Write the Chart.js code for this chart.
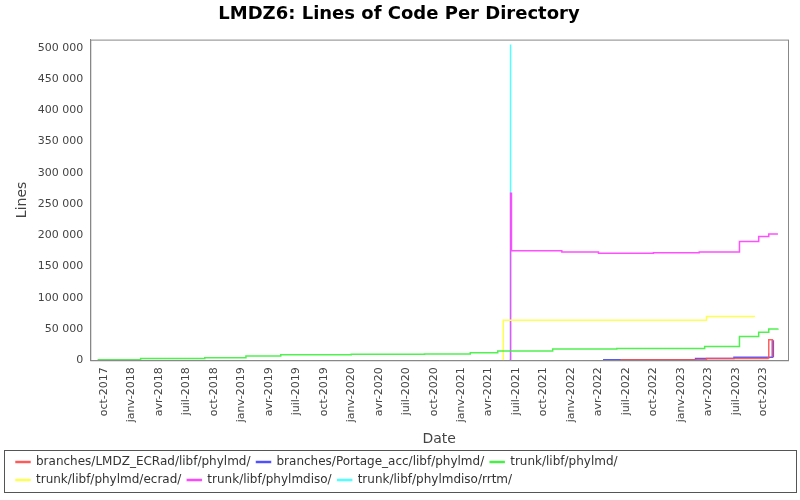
<!DOCTYPE html>
<html>
<head>
<meta charset="utf-8">
<script src="https://cdn.jsdelivr.net/npm/chart.js@4/dist/chart.umd.min.js"></script>
<style>
  body { margin: 0; background: #fff; }
  #wrap { width: 800px; height: 500px; }
</style>
</head>
<body>
<div id="wrap"><canvas id="chartCanvas"></canvas></div>
<script>
// x values are months counted from oct-2017
const tickLabels = ['oct-2017', 'janv.-2018', 'avr.-2018', 'juil.-2018', 'oct.-2018', 'janv.-2019', 'avr.-2019', 'juil.-2019', 'oct.-2019',
  'janv.-2020', 'avr.-2020', 'juil.-2020', 'oct.-2020', 'janv.-2021', 'avr.-2021', 'juil.-2021', 'oct.-2021',
  'janv.-2022', 'avr.-2022', 'juil.-2022', 'oct.-2022', 'janv.-2023', 'avr.-2023', 'juil.-2023', 'oct.-2023'];

const ecradX = [56.4, 65.8, 72.5, 72.6, 72.9, 73.0];
const ecradY = [1000, 3000, 3500, 33000, 33000, 5000];

const portageX = [54.5, 64.6, 68.8, 73.0, 73.1];
const portageY = [1000, 3000, 5000, 31000, 5000];

const phylmdX = [-0.7, 4.0, 11.0, 15.5, 19.3, 27.0, 35.0, 40.0, 43.0, 49.0, 56.0, 65.6, 69.4, 71.5, 72.6, 73.6];
const phylmdY = [1000, 3000, 4000, 7000, 9000, 9500, 10000, 12000, 15000, 18000, 19000, 22000, 38000, 45000, 50000, 51000];

const ecradDirX = [43.5, 43.6, 65.8, 71.1];
const ecradDirY = [0, 64000, 70000, 70000];

const isoX = [44.3, 44.4, 44.5, 50.0, 54.0, 60.0, 65.0, 69.4, 71.5, 72.6, 73.6];
const isoY = [0, 267000, 175000, 173000, 171000, 172000, 173000, 190000, 198000, 202000, 202000];

const rrtmX = [44.35, 44.4];
const rrtmY = [0, 505000];

function pts(xs, ys) {
  return xs.map((x, i) => ({ x: x, y: ys[i] }));
}

function series(label, xs, ys, color) {
  return {
    label: label,
    data: pts(xs, ys),
    borderColor: color,
    backgroundColor: color,
    borderWidth: 1.5,
    pointRadius: 0,
    stepped: true,
    fill: false
  };
}

// frames around the legend and the plot area, like the original
const frames = {
  id: 'frames',
  afterDraw(chart) {
    const l = chart.legend;
    const a = chart.chartArea;
    const ctx = chart.ctx;
    ctx.save();
    ctx.strokeStyle = '#555';
    ctx.lineWidth = 1;
    ctx.strokeRect(4.5, l.top + 0.5, 792, l.height - 4);
    ctx.strokeStyle = '#888';
    ctx.strokeRect(a.left + 0.5, a.top + 0.5, a.right - a.left, a.bottom - a.top);
    ctx.restore();
  }
};

const chartCanvas = document.getElementById('chartCanvas');
new Chart(chartCanvas.getContext('2d'), {
  type: 'line',
  data: {
    datasets: [
      series('branches/LMDZ_ECRad/libf/phylmd/', ecradX, ecradY, 'rgba(255, 80, 80, 0.9)'),
      series('branches/Portage_acc/libf/phylmd/', portageX, portageY, 'rgba(70, 70, 255, 0.9)'),
      series('trunk/libf/phylmd/', phylmdX, phylmdY, 'rgba(60, 240, 60, 0.9)'),
      series('trunk/libf/phylmd/ecrad/', ecradDirX, ecradDirY, 'rgba(255, 255, 80, 1)'),
      series('trunk/libf/phylmdiso/', isoX, isoY, 'rgba(255, 60, 255, 0.9)'),
      series('trunk/libf/phylmdiso/rrtm/', rrtmX, rrtmY, 'rgba(80, 255, 255, 1)')
    ]
  },
  options: {
    responsive: true,
    maintainAspectRatio: false,
    animation: false,
    layout: { padding: { left: 10, right: 12, top: 2, bottom: 4 } },
    plugins: {
      title: {
        display: true,
        text: 'LMDZ6: Lines of Code Per Directory',
        color: '#000',
        font: { family: 'DejaVu Sans', size: 18, weight: 'bold' },
        padding: { top: 2, bottom: 14 }
      },
      legend: {
        position: 'bottom',
        align: 'start',
        labels: {
          color: '#333',
          font: { family: 'DejaVu Sans', size: 12 },
          boxWidth: 14,
          boxHeight: 1,
          padding: 6
        }
      },
      tooltip: { enabled: false }
    },
    scales: {
      x: {
        type: 'linear',
        min: -1.5,
        max: 74.7,
        afterBuildTicks(axis) {
          axis.ticks = tickLabels.map((t, i) => ({ value: i * 3 }));
        },
        ticks: {
          autoSkip: false,
          maxRotation: 90,
          minRotation: 90,
          color: '#444',
          font: { family: 'DejaVu Sans', size: 11 },
          callback: (v) => tickLabels[Math.round(v / 3)].replace('.', '')
        },
        grid: { display: false, drawTicks: true, tickLength: 4 },
        border: { color: '#888' },
        title: { display: true, text: 'Date', color: '#444', font: { family: 'DejaVu Sans', size: 14 }, padding: { top: 6, bottom: 2 } }
      },
      y: {
        min: 0,
        max: 513000,
        afterBuildTicks(axis) {
          const t = [];
          for (let v = 0; v <= 500000; v += 50000) t.push({ value: v });
          axis.ticks = t;
        },
        ticks: {
          color: '#444',
          font: { family: 'DejaVu Sans', size: 11 },
          callback: (v) => v.toString().replace(/\B(?=(\d{3})+(?!\d))/g, ' ')
        },
        grid: { display: false, tickLength: 4 },
        border: { color: '#888' },
        title: { display: true, text: 'Lines', color: '#444', font: { family: 'DejaVu Sans', size: 14 } }
      }
    }
  },
  plugins: [frames]
});
</script>
</body>
</html>
